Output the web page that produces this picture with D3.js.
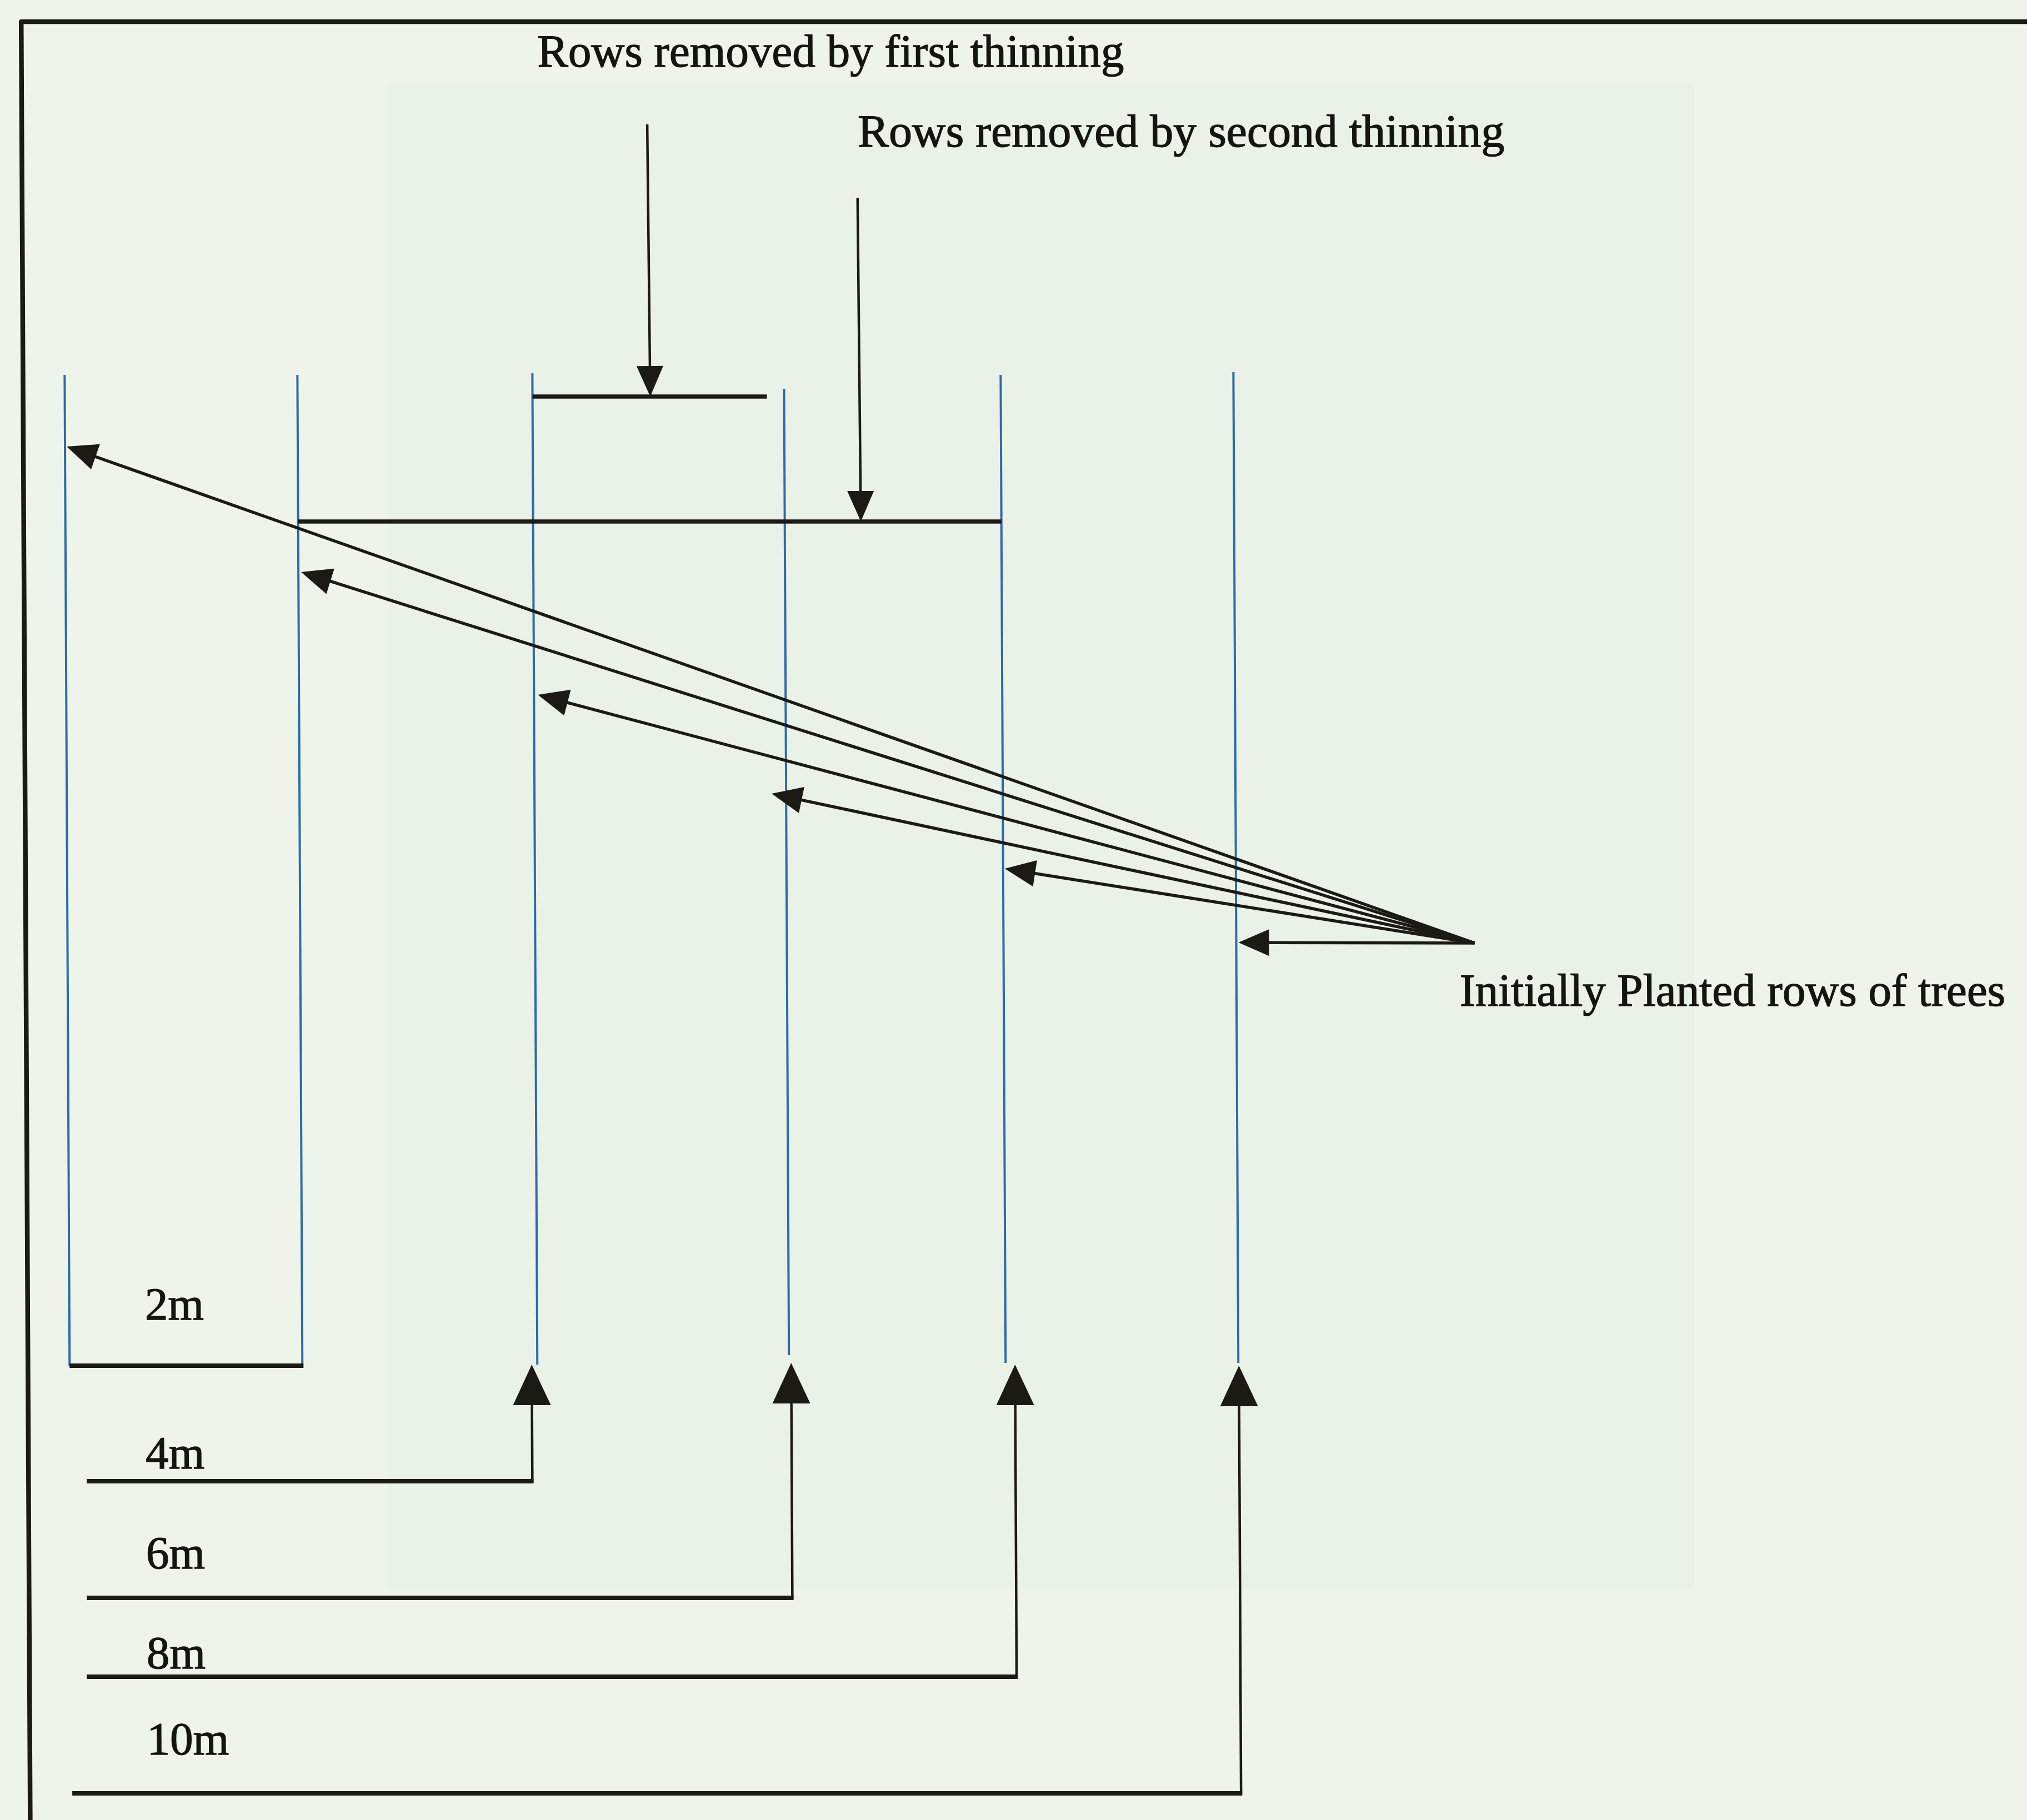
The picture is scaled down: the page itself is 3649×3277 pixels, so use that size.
<!DOCTYPE html>
<html>
<head>
<meta charset="utf-8">
<script src="https://cdn.jsdelivr.net/npm/d3@7"></script>
<style>
  html, body { margin: 0; padding: 0; background: #eef4ea; }
  svg { display: block; }
</style>
</head>
<body>
<script>
// ---------------- data (diagram units) ----------------
const rowNames   = ["Row 1", "Row 2", "Row 3", "Row 4", "Row 5", "Row 6"];
const rowX       = [121, 540, 963, 1416, 1806, 2225];
const rowTop     = [675, 675, 672, 700, 675, 670];
const rowBottom  = [2459, 2459, 2457, 2440, 2454, 2454];

const spacingLabels  = ["2m", "4m", "6m", "8m", "10m"];
const spacingLabelY  = [2376, 2644, 2824, 3004, 3159];
const spacingLabelX  = [257, 257, 257, 257, 257];
const spacingLineY   = [2459, 2667, 2877, 3019, 3229];
const spacingLineX0  = [121, 151, 150, 149, 122];
const spacingArrowX  = [null, 953, 1420, 1823, 2226];
const spacingArrowTip= [null, 2457, 2454, 2457, 2459];

const thinningLabels = ["Rows removed by first thinning", "Rows removed by second thinning"];
const thinningLabelX = [975, 1551];
const thinningLabelY = [120, 264];
const thinningLabelW = [1056, 1164];
const thinningArrowFrom = [[1172, 224], [1550, 356]];
const thinningArrowTo   = [[1175, 714], [1553, 939]];
const thinningBarX0 = [963, 540];
const thinningBarX1 = [1385, 1806];
const thinningBarY  = [714, 939];

const plantedLabel  = "Initially Planted rows of trees";
const plantedLabelPos = [2627, 1811];
const plantedLabelW = 982;
const plantedSource = [2654, 1698];
const plantedTips   = [[124, 804], [545, 1030], [970, 1251], [1390, 1429], [1809, 1564], [2229, 1697]];

// ---------------- drawing ----------------
const W = 3649, H = 3277;
const ink = "#1b1a15", blue = "#2c6ba8", bg = "#eef4ea";
const x = d3.scaleLinear().domain([0, 3649]).range([0, W]);
const y = d3.scaleLinear().domain([0, 3277]).range([0, H]);

const svg = d3.select("body").append("svg").attr("width", W).attr("height", H);
svg.append("rect").attr("width", W).attr("height", H).attr("fill", bg);
// faint bleed-through from the scanned page
svg.append("rect").attr("x", x(700)).attr("y", y(150)).attr("width", x(3050) - x(700)).attr("height", y(2860) - y(150))
  .attr("fill", "#e4ebe0").attr("opacity", 0.28);

const g = svg.append("g").attr("transform", "translate(0,1600) skewX(0.2865) translate(0,-1600)");

// frame
g.append("path")
  .attr("d", `M${x(46)},${y(3300)} L${x(46)},${y(39)} L${x(3700)},${y(39)}`)
  .attr("fill", "none").attr("stroke", ink).attr("stroke-width", 8.5).attr("stroke-linejoin", "round");

// tree rows (blue)
g.selectAll("line.row").data(rowX).join("line").attr("class", "row")
  .attr("x1", d => x(d)).attr("x2", d => x(d))
  .attr("y1", (d, i) => y(rowTop[i])).attr("y2", (d, i) => y(rowBottom[i]))
  .attr("stroke", blue).attr("stroke-width", 4);

// thinning bars
g.selectAll("line.bar").data(thinningBarY).join("line").attr("class", "bar")
  .attr("x1", (d, i) => x(thinningBarX0[i])).attr("x2", (d, i) => x(thinningBarX1[i]))
  .attr("y1", d => y(d)).attr("y2", d => y(d))
  .attr("stroke", ink).attr("stroke-width", 7.5);

function arrow(p0, p1, len, wid, sw) {
  const X0 = x(p0[0]), Y0 = y(p0[1]), X1 = x(p1[0]), Y1 = y(p1[1]);
  const dx = X1 - X0, dy = Y1 - Y0, L = Math.hypot(dx, dy);
  const ux = dx / L, uy = dy / L, nx = -uy, ny = ux;
  g.append("line").attr("x1", X0).attr("y1", Y0)
    .attr("x2", X1 - ux * len * 0.6).attr("y2", Y1 - uy * len * 0.6)
    .attr("stroke", ink).attr("stroke-width", sw);
  const bx = X1 - ux * len, by = Y1 - uy * len;
  g.append("path")
    .attr("d", `M${X1},${Y1}L${bx + nx * wid / 2},${by + ny * wid / 2}L${bx - nx * wid / 2},${by - ny * wid / 2}Z`)
    .attr("fill", ink);
}

// thinning arrows
thinningArrowFrom.forEach((p, i) => arrow(p, thinningArrowTo[i], 55, 48, 4.5));

// planted rows arrows
plantedTips.forEach(t => arrow(plantedSource, t, 55, 48, 5.5));

// spacing lines
spacingLabels.forEach((lab, i) => {
  const yl = spacingLineY[i];
  const xr = i === 0 ? rowX[1] : spacingArrowX[i];
  g.append("line").attr("x1", x(spacingLineX0[i])).attr("x2", x(xr) + 2)
    .attr("y1", y(yl)).attr("y2", y(yl))
    .attr("stroke", ink).attr("stroke-width", 8);
  if (i > 0) {
    arrow([spacingArrowX[i], yl + 3], [spacingArrowX[i], spacingArrowTip[i]], 73, 68, 4.5);
  }
  g.append("text").attr("x", x(spacingLabelX[i])).attr("y", y(spacingLabelY[i]))
    .attr("font-family", "'Liberation Serif', 'Times New Roman', serif")
    .attr("font-size", 83).attr("fill", "#151510")
    .attr("stroke", "#151510").attr("stroke-width", 1.3)
    .text(lab);
});

// text labels
thinningLabels.forEach((t, i) => {
  g.append("text").attr("x", x(thinningLabelX[i])).attr("y", y(thinningLabelY[i]))
    .attr("font-family", "'Liberation Serif', 'Times New Roman', serif")
    .attr("font-size", 83).attr("fill", "#151510")
    .attr("stroke", "#151510").attr("stroke-width", 1.3)
    .attr("textLength", thinningLabelW[i]).attr("lengthAdjust", "spacingAndGlyphs")
    .text(t);
});
g.append("text").attr("x", x(plantedLabelPos[0])).attr("y", y(plantedLabelPos[1]))
  .attr("font-family", "'Liberation Serif', 'Times New Roman', serif")
  .attr("font-size", 83).attr("fill", "#151510")
  .attr("stroke", "#151510").attr("stroke-width", 1.3)
  .attr("textLength", plantedLabelW).attr("lengthAdjust", "spacingAndGlyphs")
  .text(plantedLabel);
</script>
</body>
</html>
